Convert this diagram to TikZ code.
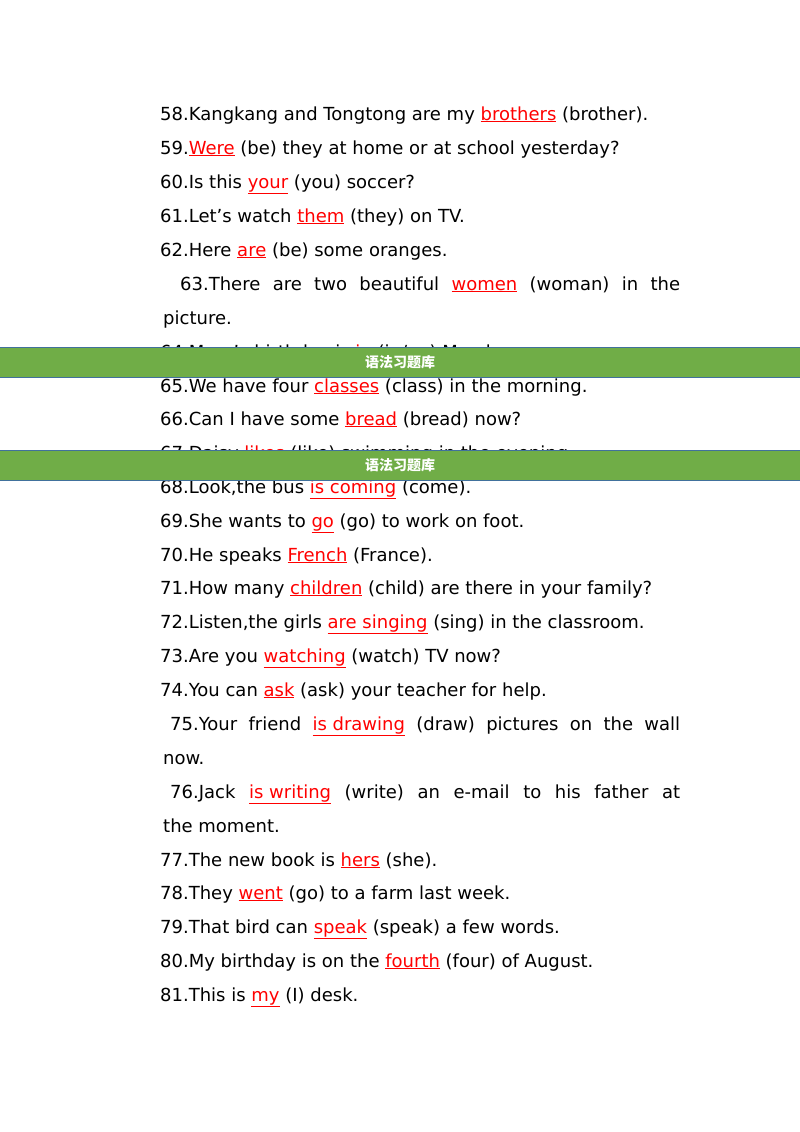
\documentclass[tikz,border=0pt]{standalone}
\usepackage{fontspec}
\setmainfont{DejaVu Sans}
\newfontfamily\cjk{Noto Sans CJK SC}
\newcommand{\ans}[1]{\textcolor{red}{\underline{#1}}}
\tikzset{
  line/.style={anchor=base west, inner sep=0pt, font=\fontsize{18}{34}\selectfont},
  para/.style={line, text width=517pt, align=justify},
  banner/.style={fill=bannergreen, draw=bannerblue, line width=.8pt},
}
\definecolor{bannergreen}{HTML}{70AD47}
\definecolor{bannerblue}{HTML}{41719C}
\begin{document}
\begin{tikzpicture}[x=1pt, y=-1pt]

  %--------------------------------------------
  % Page
  %--------------------------------------------
  \useasboundingbox[fill=white] (0,0) rectangle (800,1132);

  %--------------------------------------------
  % Single lines: name / baseline / text
  %--------------------------------------------
  \foreach \n/\y/\t in {
    58/120/{58.Kangkang and Tongtong are my \ans{brothers} (brother).},
    59/154/{59.\ans{Were} (be) they at home or at school yesterday?},
    60/188/{60.Is this \ans{your} (you) soccer?},
    61/222/{61.Let’s watch \ans{them} (they) on TV.},
    62/256/{62.Here \ans{are} (be) some oranges.},
    64/358/{64.Mary’s birthday is \ans{in} (in/on) March.},
    65/392/{65.We have four \ans{classes} (class) in the morning.},
    66/425/{66.Can I have some \ans{bread} (bread) now?},
    67/459/{67.Daisy \ans{likes} (like) swimming in the evening.},
    68/493/{68.Look,the bus \ans{is coming} (come).},
    69/527/{69.She wants to \ans{go} (go) to work on foot.},
    70/561/{70.He speaks \ans{French} (France).},
    71/594/{71.How many \ans{children} (child) are there in your family?},
    72/628/{72.Listen,the girls \ans{are singing} (sing) in the classroom.},
    73/662/{73.Are you \ans{watching} (watch) TV now?},
    74/696/{74.You can \ans{ask} (ask) your teacher for help.},
    77/866/{77.The new book is \ans{hers} (she).},
    78/899/{78.They \ans{went} (go) to a farm last week.},
    79/933/{79.That bird can \ans{speak} (speak) a few words.},
    80/967/{80.My birthday is on the \ans{fourth} (four) of August.},
    81/1001/{81.This is \ans{my} (I) desk.}}
  {
    \node[line] (l\n) at (160,\y) {\t};
  }

  %--------------------------------------------
  % Justified two-line items
  %--------------------------------------------
  \node[para] (l63) at (163,290) {\hspace*{17pt}63.There are two beautiful \ans{women} (woman) in the\linebreak picture.};
  \node[para] (l75) at (163,730) {\hspace*{7pt}75.Your friend \ans{is drawing} (draw) pictures on the wall\linebreak now.};
  \node[para] (l76) at (163,798) {\hspace*{7pt}76.Jack \ans{is writing} (write) an e-mail to his father at\linebreak the moment.};

  %--------------------------------------------
  % Banners covering lines 64 and 67
  %--------------------------------------------
  \foreach \b/\y in {a/347, b/450}
  {
    \draw[banner] (-1,\y) rectangle (801,\y+30);
    \node[text=white, font=\cjk\bfseries\fontsize{14}{16}\selectfont] (banner\b) at (400,\y+15) {语法习题库};
  }

\end{tikzpicture}
\end{document}
